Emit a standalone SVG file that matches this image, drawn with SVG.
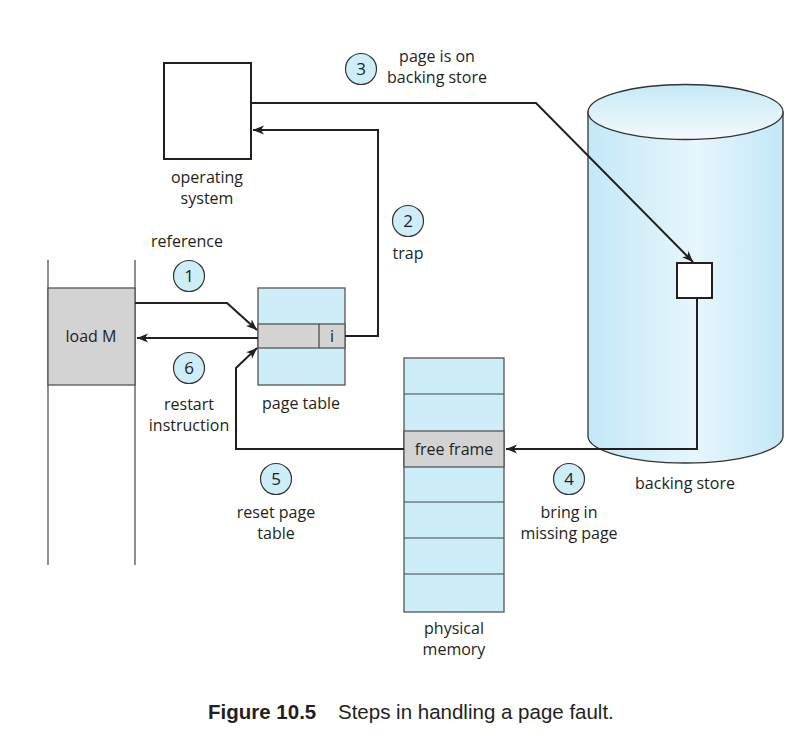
<svg xmlns="http://www.w3.org/2000/svg" width="798" height="754" viewBox="0 0 798 754">
<style>
text{font-family:"Open Sans","Noto Sans",sans-serif;font-size:16px;fill:#231f20;text-anchor:middle}
.cap{font-family:"Liberation Sans",Arial,sans-serif;font-size:20.5px;text-anchor:start}
.num{font-size:17px}
.blue{fill:#cdeef9;stroke:#555;stroke-width:1.3}
.gray{fill:#d3d3d3;stroke:#555;stroke-width:1.3}
.circ{fill:#cdeef9;stroke:#333;stroke-width:1.2}
.conn{fill:none;stroke:#231f20;stroke-width:2}
.thin{fill:none;stroke:#444;stroke-width:1.2}
</style>
<defs>
<marker id="ah" markerWidth="12" markerHeight="10" refX="11" refY="5" orient="auto" markerUnits="userSpaceOnUse">
<path d="M0,0.5 L11,5 L0,9.5 L3,5 Z" fill="#231f20"/>
</marker>
<linearGradient id="cylBody" x1="0" y1="0" x2="1" y2="0">
<stop offset="0" stop-color="#c3e8f7"/>
<stop offset="0.55" stop-color="#e6f6fc"/>
<stop offset="1" stop-color="#c3e8f7"/>
</linearGradient>
<linearGradient id="cylTop" x1="0" y1="0" x2="0" y2="1">
<stop offset="0" stop-color="#c6e9f7"/>
<stop offset="1" stop-color="#f2fafd"/>
</linearGradient>
</defs>
<rect width="798" height="754" fill="#fff"/>

<g id="program">
<line x1="48" y1="260" x2="48" y2="565" class="thin"/>
<line x1="135" y1="260" x2="135" y2="565" class="thin"/>
<rect x="48" y="288" width="87" height="97" class="gray"/>
<text x="91" y="342">load M</text>
</g>

<g id="os">
<rect x="164" y="63" width="87" height="96" fill="#fff" stroke="#231f20" stroke-width="2"/>
<text x="207" y="183">operating</text>
<text x="207" y="204">system</text>
</g>

<g id="pagetable">
<rect x="258" y="288" width="87" height="97" class="blue"/>
<rect x="258" y="324" width="87" height="24" class="gray"/>
<line x1="319" y1="324" x2="319" y2="348" class="thin"/>
<text x="332" y="342">i</text>
<text x="301" y="409">page table</text>
</g>

<g id="memory">
<rect x="404" y="358" width="100" height="254" class="blue"/>
<line x1="404" y1="394" x2="504" y2="394" class="thin"/>
<rect x="404" y="431" width="100" height="36" class="gray"/>
<line x1="404" y1="502" x2="504" y2="502" class="thin"/>
<line x1="404" y1="538" x2="504" y2="538" class="thin"/>
<line x1="404" y1="574" x2="504" y2="574" class="thin"/>
<text x="454" y="455">free frame</text>
<text x="454" y="634">physical</text>
<text x="454" y="655">memory</text>
</g>

<g id="backingstore">
<path d="M588,112 L588,436 A97.5,27 0 0 0 783,436 L783,112 Z" fill="url(#cylBody)" stroke="#333" stroke-width="1.3"/>
<ellipse cx="685.5" cy="112" rx="97.5" ry="27.5" fill="url(#cylTop)" stroke="#333" stroke-width="1.3"/>
<text x="685" y="489">backing store</text>
</g>

<g id="page">
<rect x="677" y="263" width="35" height="35" fill="#fff" stroke="#231f20" stroke-width="2"/>
</g>

<g id="connectors">
<polyline points="135,303 227,303 257,330" class="conn" marker-end="url(#ah)"/>
<line x1="258" y1="338" x2="137" y2="338" class="conn" marker-end="url(#ah)"/>
<polyline points="345,336 378,336 378,130 253,130" class="conn" marker-end="url(#ah)"/>
<polyline points="251,103 536,103 693,262" class="conn" marker-end="url(#ah)"/>
<polyline points="697,298 697,449 506,449" class="conn" marker-end="url(#ah)"/>
<polyline points="404,449 236,449 236,368 257,348" class="conn" marker-end="url(#ah)"/>
</g>

<g id="labels">
<circle cx="189" cy="276" r="15.5" class="circ"/><text x="189" y="282" class="num">1</text>
<text x="187" y="247">reference</text>
<circle cx="408" cy="221" r="15.5" class="circ"/><text x="408" y="227" class="num">2</text>
<text x="408" y="259">trap</text>
<circle cx="361" cy="69" r="15.5" class="circ"/><text x="361" y="75" class="num">3</text>
<text x="437" y="62">page is on</text>
<text x="437" y="83">backing store</text>
<circle cx="569" cy="479" r="15.5" class="circ"/><text x="569" y="485" class="num">4</text>
<text x="569" y="518">bring in</text>
<text x="569" y="539">missing page</text>
<circle cx="276" cy="479" r="15.5" class="circ"/><text x="276" y="485" class="num">5</text>
<text x="276" y="518">reset page</text>
<text x="276" y="539">table</text>
<circle cx="189" cy="368" r="15.5" class="circ"/><text x="189" y="374" class="num">6</text>
<text x="189" y="410">restart</text>
<text x="189" y="431">instruction</text>
</g>

<g id="caption">
<text x="208" y="719" class="cap" font-weight="bold">Figure 10.5</text>
<text x="338" y="719" class="cap">Steps in handling a page fault.</text>
</g>
</svg>
